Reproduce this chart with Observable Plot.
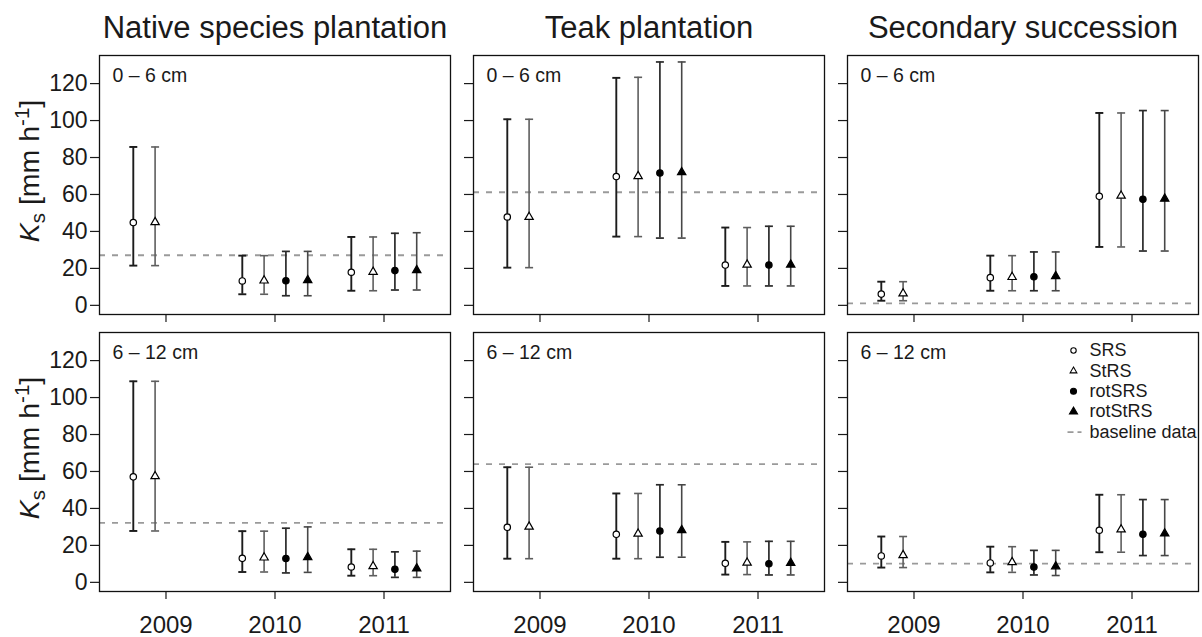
<!DOCTYPE html>
<html>
<head>
<meta charset="utf-8">
<script src="https://cdn.jsdelivr.net/npm/d3@7"></script>
<script src="https://cdn.jsdelivr.net/npm/@observablehq/plot@0.6"></script>
<style>
  body { margin: 0; background: #fff; }
  #chart svg { display: block; }
</style>
</head>
<body>
<div id="chart"></div>
<script>
// Saturated hydraulic conductivity (Ks) by land use, soil depth and year.
const sites = ["Native species plantation", "Teak plantation", "Secondary succession"];
const depths = ["0 – 6 cm", "6 – 12 cm"];
const years = [2009, 2010, 2011];
const methods = ["SRS", "StRS", "rotSRS", "rotStRS"];
const yTicks = [0, 20, 40, 60, 80, 100, 120];
const legendLabels = ["SRS", "StRS", "rotSRS", "rotStRS", "baseline data"];

// Baseline Ks per site, [0–6 cm, 6–12 cm]
const baselineNative = [27.1, 32.2];
const baselineTeak = [61.2, 64.0];
const baselineSecondary = [1.1, 10.1];

// [year, method, Ks, lower limit, upper limit]
const native0to6 = [
  [2009, "SRS", 44.8, 21.5, 85.7], [2009, "StRS", 45.0, 21.5, 85.7],
  [2010, "SRS", 13.2, 6.0, 26.9], [2010, "StRS", 13.4, 6.0, 26.9],
  [2010, "rotSRS", 13.3, 5.2, 29.2], [2010, "rotStRS", 13.6, 5.2, 29.2],
  [2011, "SRS", 17.9, 7.9, 37.0], [2011, "StRS", 18.1, 7.9, 37.0],
  [2011, "rotSRS", 18.8, 8.3, 39.0], [2011, "rotStRS", 19.0, 8.3, 39.3]
];
const teak0to6 = [
  [2009, "SRS", 47.8, 20.4, 100.7], [2009, "StRS", 47.8, 20.4, 100.7],
  [2010, "SRS", 69.7, 37.2, 123.1], [2010, "StRS", 69.9, 37.2, 123.4],
  [2010, "rotSRS", 71.6, 36.4, 131.7], [2010, "rotStRS", 72.0, 36.4, 131.7],
  [2011, "SRS", 21.8, 10.5, 42.1], [2011, "StRS", 22.0, 10.5, 42.1],
  [2011, "rotSRS", 21.8, 10.5, 42.8], [2011, "rotStRS", 22.0, 10.5, 42.8]
];
const secondary0to6 = [
  [2009, "SRS", 6.1, 2.5, 12.8], [2009, "StRS", 6.4, 2.5, 12.8],
  [2010, "SRS", 15.0, 7.9, 26.9], [2010, "StRS", 15.3, 7.9, 26.9],
  [2010, "rotSRS", 15.5, 7.9, 28.9], [2010, "rotStRS", 15.8, 7.9, 28.9],
  [2011, "SRS", 59.0, 31.6, 104.1], [2011, "StRS", 59.3, 31.6, 104.1],
  [2011, "rotSRS", 57.4, 29.4, 105.4], [2011, "rotStRS", 57.7, 29.4, 105.4]
];
const native6to12 = [
  [2009, "SRS", 57.1, 27.8, 108.8], [2009, "StRS", 57.4, 27.8, 108.8],
  [2010, "SRS", 13.0, 5.6, 27.7], [2010, "StRS", 13.4, 5.6, 27.7],
  [2010, "rotSRS", 12.9, 5.1, 29.3], [2010, "rotStRS", 13.6, 5.4, 30.0],
  [2011, "SRS", 8.3, 3.6, 17.9], [2011, "StRS", 8.7, 3.6, 17.9],
  [2011, "rotSRS", 7.1, 2.7, 16.5], [2011, "rotStRS", 7.5, 2.7, 16.9]
];
const teak6to12 = [
  [2009, "SRS", 29.8, 12.8, 62.3], [2009, "StRS", 30.1, 12.8, 62.3],
  [2010, "SRS", 26.0, 12.8, 48.1], [2010, "StRS", 26.3, 12.8, 48.1],
  [2010, "rotSRS", 27.8, 13.6, 52.8], [2010, "rotStRS", 28.2, 13.6, 52.8],
  [2011, "SRS", 10.3, 4.2, 21.9], [2011, "StRS", 10.6, 4.2, 21.9],
  [2011, "rotSRS", 10.1, 4.0, 22.2], [2011, "rotStRS", 10.5, 4.0, 22.2]
];
const secondary6to12 = [
  [2009, "SRS", 14.3, 8.0, 24.8], [2009, "StRS", 14.7, 8.0, 24.8],
  [2010, "SRS", 10.5, 5.4, 19.3], [2010, "StRS", 10.9, 5.4, 19.3],
  [2010, "rotSRS", 8.3, 4.0, 17.3], [2010, "rotStRS", 8.6, 3.7, 17.3],
  [2011, "SRS", 28.2, 16.3, 47.4], [2011, "StRS", 28.6, 16.3, 47.4],
  [2011, "rotSRS", 26.0, 14.5, 44.8], [2011, "rotStRS", 26.4, 14.5, 44.8]
];

// ---- tables built for the facets ----
const panels = [
  [sites[0], depths[0], native0to6], [sites[1], depths[0], teak0to6], [sites[2], depths[0], secondary0to6],
  [sites[0], depths[1], native6to12], [sites[1], depths[1], teak6to12], [sites[2], depths[1], secondary6to12]
];
const rows = panels.flatMap(([site, depth, values]) =>
  values.map(([year, method, ks, lo, hi]) => ({site, depth, year, method, ks, lo, hi})));
const baselines = [baselineNative, baselineTeak, baselineSecondary];
const baselineRows = sites.flatMap((site, i) => depths.map((depth, j) => ({site, depth, ks: baselines[i][j]})));
const depthRows = sites.flatMap(site => depths.map(depth => ({site, depth})));
const labelRows = depths.map(depth => ({site: sites[0], depth}));
const legendPanel = [{site: sites[2], depth: depths[1]}];

// dodge the four methods around each year
const dodge = {SRS: -0.3, StRS: -0.1, rotSRS: 0.1, rotStRS: 0.3};
const xOf = d => d.year + dodge[d.method];

const look = {
  SRS:     {bar: "#1c1c1c", width: 1.9, symbol: "circle",   fill: "white", r: 3.2},
  StRS:    {bar: "#5e5e5e", width: 1.6, symbol: "triangle", fill: "white", r: 3.1},
  rotSRS:  {bar: "#2a2a2a", width: 1.7, symbol: "circle",   fill: "black", r: 3.2},
  rotStRS: {bar: "#474747", width: 1.6, symbol: "triangle", fill: "black", r: 3.1}
};

// horizontal end cap for the error bars
const cap = {draw(ctx, size) { const w = Math.sqrt(size / Math.PI); ctx.moveTo(-w, 0); ctx.lineTo(w, 0); }};
// short broken line used as the legend key of the baseline
const dashKey = {draw(ctx) { ctx.moveTo(-7, 0); ctx.lineTo(-1, 0); ctx.moveTo(3, 0); ctx.lineTo(7, 0); }};

const facet = {fx: "site", fy: "depth"};
const font = "'Liberation Sans', Arial, Helvetica, sans-serif";

const methodMarks = methods.flatMap(m => {
  const data = rows.filter(d => d.method === m);
  const s = look[m];
  return [
    Plot.ruleX(data, {...facet, x: xOf, y1: "lo", y2: "hi", stroke: s.bar, strokeWidth: s.width}),
    Plot.dot(data, {...facet, x: xOf, y: "lo", symbol: cap, r: 4, fill: "none", stroke: s.bar, strokeWidth: s.width}),
    Plot.dot(data, {...facet, x: xOf, y: "hi", symbol: cap, r: 4, fill: "none", stroke: s.bar, strokeWidth: s.width}),
    Plot.dot(data, {...facet, x: xOf, y: "ks", symbol: s.symbol, r: s.r, fill: s.fill, stroke: "black", strokeWidth: 1.2})
  ];
});

const legendSymbols = [
  {symbol: "circle", fill: "white", r: 2.7},
  {symbol: "triangle", fill: "white", r: 2.5},
  {symbol: "circle", fill: "black", r: 3.0},
  {symbol: "triangle", fill: "black", r: 3.0}
];
const legendStep = 20.4;
const legendMarks = [
  ...legendSymbols.map((s, i) => Plot.dot(legendPanel, {
    ...facet, frameAnchor: "top-left", dx: 226, dy: 18 + legendStep * i,
    symbol: s.symbol, r: s.r, fill: s.fill, stroke: "black", strokeWidth: 1.1
  })),
  Plot.dot(legendPanel, {
    ...facet, frameAnchor: "top-left", dx: 227, dy: 18 + legendStep * 4,
    symbol: dashKey, r: 1, fill: "none", stroke: "#9a9a9a", strokeWidth: 1.6
  }),
  ...legendLabels.map((label, i) => Plot.text(legendPanel, {
    ...facet, frameAnchor: "top-left", dx: 242, dy: 18 + legendStep * i,
    text: () => label, textAnchor: "start", lineAnchor: "middle", fontSize: 18, fill: "#1a1a1a"
  }))
];

const chart = Plot.plot({
  width: 1202,
  height: 637,
  marginTop: 55,
  marginBottom: 46,
  marginLeft: 98,
  marginRight: 2,
  style: {fontFamily: font, color: "#1a1a1a", background: "white"},
  fx: {domain: sites, paddingInner: 0.0613, paddingOuter: 0},
  fy: {domain: depths, paddingInner: 0.065, paddingOuter: 0, axis: null},
  x: {domain: [2008.39, 2011.61]},
  y: {domain: [-4.95, 135.2]},
  marks: [
    Plot.axisFx({anchor: "top", tickSize: 0, tickPadding: 18, fontSize: 31, label: null}),
    // tick marks on every panel
    Plot.axisY({ticks: yTicks, tickSize: 9, tickFormat: () => "", label: null, facetAnchor: null, strokeWidth: 1.2}),
    Plot.axisX({ticks: years, anchor: "bottom", tickSize: 8, tickFormat: () => "", label: null, facetAnchor: null, strokeWidth: 1.2}),
    // tick labels on the outer panels
    Plot.axisY({ticks: yTicks, tickSize: 0, tickPadding: 12, fontSize: 23, label: null}),
    Plot.axisX({ticks: years, anchor: "bottom", tickSize: 0, tickPadding: 24, tickFormat: "d", fontSize: 24, label: null}),
    Plot.ruleY(baselineRows, {...facet, y: "ks", stroke: "#9a9a9a", strokeWidth: 1.8, strokeDasharray: "6,7"}),
    ...methodMarks,
    Plot.text(depthRows, {...facet, text: "depth", frameAnchor: "top-left", dx: 13, dy: 13, lineAnchor: "top", fontSize: 19.5, fill: "#1a1a1a"}),
    Plot.text(labelRows, {...facet, text: () => "Ks [mm h-1]", frameAnchor: "left", textAnchor: "middle", lineAnchor: "middle", dx: -70, dy: -14, rotate: -90, fontSize: 28.5, fill: "#1a1a1a"}),
    ...legendMarks,
    Plot.frame({stroke: "#111", strokeWidth: 1.3})
  ]
});

// typeset the axis title with an italic K, subscript s and superscript -1
d3.select(chart).selectAll("text").filter(function () { return this.textContent === "Ks [mm h-1]"; })
  .each(function () {
    const t = d3.select(this);
    t.text(null);
    t.append("tspan").attr("font-style", "italic").text("K");
    t.append("tspan").attr("font-size", "72%").attr("dy", 6).text("s");
    t.append("tspan").attr("dy", -6).text(" [mm h");
    t.append("tspan").attr("font-size", "72%").attr("dy", -10).text("-1");
    t.append("tspan").attr("dy", 10).text("]");
  });

document.getElementById("chart").append(chart);
</script>
</body>
</html>
